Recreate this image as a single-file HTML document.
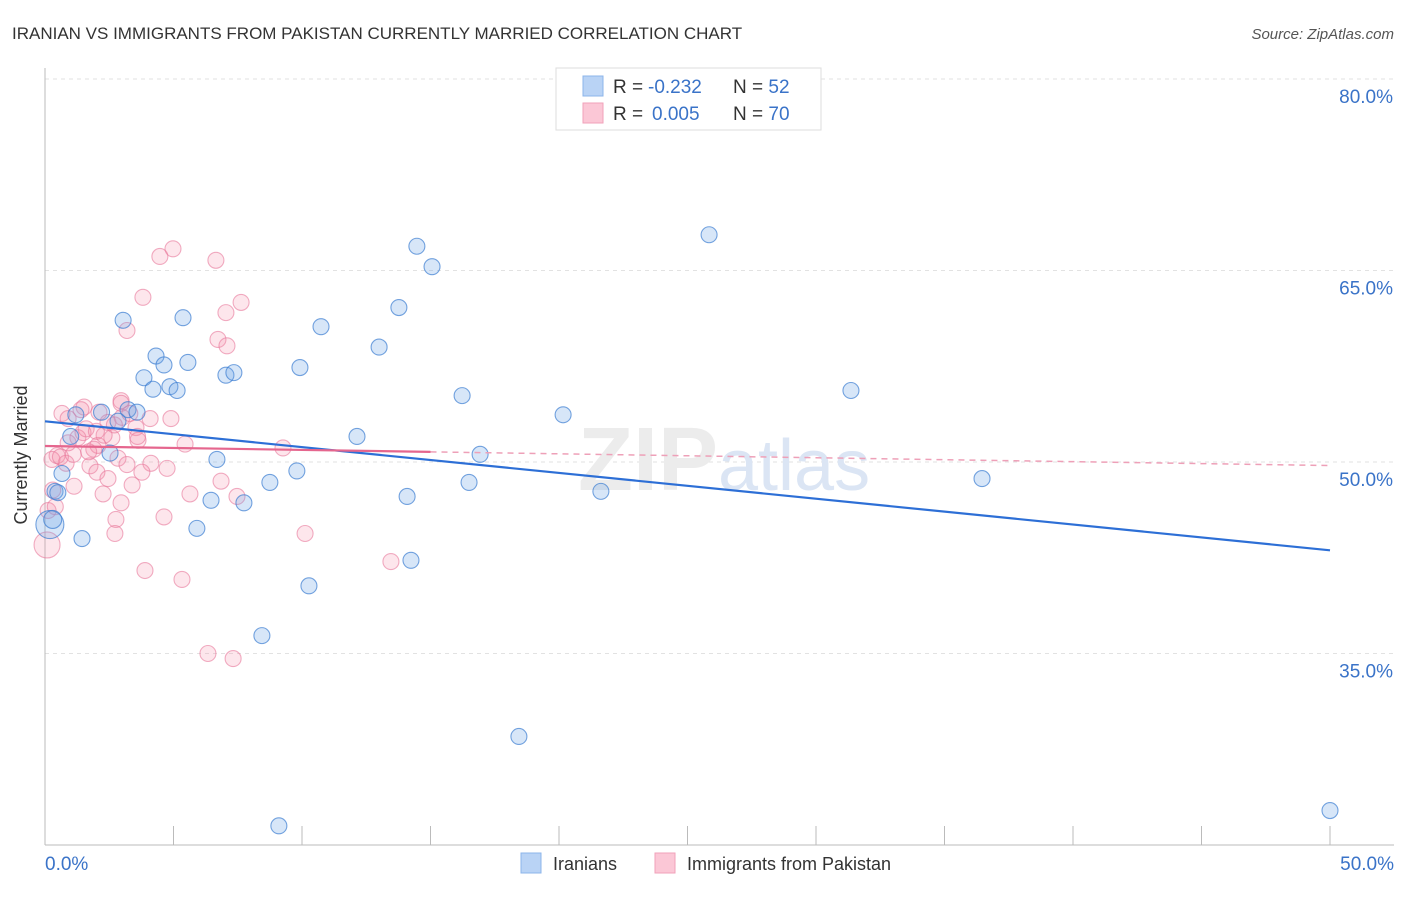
<!DOCTYPE html>
<html><head><meta charset="utf-8"><style>
body{margin:0;background:#fff;font-family:"Liberation Sans",sans-serif}
svg text{font-family:"Liberation Sans",sans-serif}
</style></head><body>
<svg id="chart" width="1406" height="892" viewBox="0 0 1406 892">
<text x="12" y="39" font-size="17" fill="#333">IRANIAN VS IMMIGRANTS FROM PAKISTAN CURRENTLY MARRIED CORRELATION CHART</text>
<text x="1394" y="39" font-size="15" fill="#555" font-style="italic" text-anchor="end">Source: ZipAtlas.com</text>
<g id="grid"></g>
<g id="axes"></g>
<text x="718" y="490" font-size="90" fill="#ececec" text-anchor="end" font-family="Liberation Serif" font-weight="bold">ZIP</text>
<text x="718" y="490" font-size="72" fill="#dbe5f4">atlas</text>
<g id="pts"></g>
<g id="lines"></g>
<text x="27" y="455" font-size="18" fill="#333" text-anchor="middle" transform="rotate(-90 27 455)">Currently Married</text>
<g>
<rect x="556" y="68" width="265" height="62" fill="#fff" stroke="#ddd"/>
<rect x="583" y="76" width="20" height="20" fill="#b9d3f5" stroke="#8cb4ea"/>
<rect x="583" y="103" width="20" height="20" fill="#fbc7d6" stroke="#f0a2ba"/>
<text x="613" y="93" font-size="19" fill="#333">R = <tspan fill="#3a73c8" x="648">-0.232</tspan><tspan x="733">N = </tspan><tspan fill="#3a73c8">52</tspan></text>
<text x="613" y="120" font-size="19" fill="#333">R = <tspan fill="#3a73c8" x="652">0.005</tspan><tspan x="733">N = </tspan><tspan fill="#3a73c8">70</tspan></text>
</g>
<g>
<rect x="521" y="853" width="20" height="20" fill="#b9d3f5" stroke="#8cb4ea"/>
<text x="553" y="870" font-size="18" fill="#333">Iranians</text>
<rect x="655" y="853" width="20" height="20" fill="#fbc7d6" stroke="#f0a2ba"/>
<text x="687" y="870" font-size="18" fill="#333">Immigrants from Pakistan</text>
</g>
</svg>
<script>
const yTicks=[35,50,65,80];
const yTickLabels=["35.0%","50.0%","65.0%","80.0%"];
const xTickLabels=["0.0%","50.0%"];
const blueX=[25.84,14.47,15.06,13.77,10.74,13.0,3.04,5.37,4.32,4.63,5.56,3.85,7.04,7.35,9.92,4.2,4.86,5.14,16.23,31.36,20.16,1.2,2.2,3.23,3.58,2.84,1.0,12.14,16.93,2.53,6.69,9.8,0.66,16.5,8.75,36.46,0.39,21.63,14.09,6.46,7.74,0.19,5.91,1.44,14.24,10.27,8.44,18.44,9.1,50,0.3,0.5];
const blueY=[67.8,66.9,65.3,62.1,60.6,59.0,61.1,61.3,58.3,57.6,57.8,56.6,56.8,57.0,57.4,55.7,55.9,55.6,55.2,55.6,53.7,53.7,53.9,54.1,53.9,53.2,52.0,52.0,50.6,50.7,50.2,49.3,49.1,48.4,48.4,48.7,47.7,47.7,47.3,47.0,46.8,45.1,44.8,44.0,42.3,40.3,36.4,28.5,21.5,22.7,45.5,47.6];
const blueR=[8,8,8,8,8,8,8,8,8,8,8,8,8,8,8,8,8,8,8,8,8,8,8,8,8,8,8,8,8,8,8,8,8,8,8,8,8,8,8,8,8,14,8,8,8,8,8,8,8,8,9,8];
const pinkX=[4.98,4.47,6.65,3.81,7.63,7.04,3.19,6.73,7.08,2.96,1.52,0.66,2.1,2.96,4.9,4.09,0.9,2.45,3.54,1.48,1.28,3.62,2.6,5.45,9.26,2.06,0.47,0.82,2.84,4.12,1.75,3.19,4.75,2.02,3.77,2.45,6.85,1.13,3.39,2.26,5.64,7.47,2.96,0.12,4.63,2.76,10.12,2.72,0.08,13.46,3.89,5.33,6.34,7.32,0.27,0.6,1.6,2.3,3.0,1.9,0.4,1.1,2.7,3.3,0.9,1.4,2.0,3.6,0.3,1.7];
const pinkY=[66.7,66.1,65.8,62.9,62.5,61.7,60.3,59.6,59.1,54.8,54.3,53.8,53.9,54.6,53.4,53.4,53.4,53.1,52.7,52.3,51.9,51.7,51.9,51.4,51.1,51.3,50.5,49.9,50.3,49.9,49.7,49.8,49.5,49.2,49.2,48.7,48.5,48.1,48.2,47.5,47.5,47.3,46.8,46.2,45.7,45.5,44.4,44.4,43.5,42.2,41.5,40.8,35.0,34.6,50.2,50.4,52.6,52.1,53.5,51.0,46.5,50.6,52.9,53.8,51.5,54.1,52.4,52.0,47.8,50.8];
const X0=45,X1=1330,XMAX=50;
function xs(v){return X0+v/XMAX*(X1-X0);}
function ys(v){return 462-(v-50)*191.5/15;}
const NS="http://www.w3.org/2000/svg";
function mk(t,a,p){const e=document.createElementNS(NS,t);for(const k in a)e.setAttribute(k,a[k]);p.appendChild(e);return e;}
const grid=document.getElementById('grid'),axes=document.getElementById('axes');
yTicks.forEach((t,i)=>{
 const g=mk('line',{x1:45,x2:1394,y1:ys(t),y2:ys(t),stroke:'#e2e2e2','stroke-dasharray':'4,4'},grid);
 
 
 const l=mk('text',{x:1393,y:ys(t)+24,'font-size':19,fill:'#3a73c8','text-anchor':'end'},axes);
 l.textContent=yTickLabels[i];
 
 
});
const ya=mk('line',{x1:45,x2:45,y1:68,y2:845,stroke:'#bbb'},axes);


const xa=mk('line',{x1:45,x2:1394,y1:845,y2:845,stroke:'#bbb'},axes);


for(let i=0;i<=10;i++){
 const t=mk('line',{x1:xs(i*5),x2:xs(i*5),y1:826,y2:845,stroke:'#bbb'},axes);
 
 
}
[[0,xTickLabels[0],'start',45],[50,xTickLabels[1],'end',1394]].forEach(d=>{
 const l=mk('text',{x:d[3],y:870,'font-size':19,fill:'#3a73c8','text-anchor':d[2]},axes);
 l.textContent=d[1];
 
 
});
const pts=document.getElementById('pts');
function draw(X,Y,R,fill,stroke,name){
 X.forEach((x,i)=>{
  const c=mk('circle',{cx:xs(x),cy:ys(Y[i]),r:R?R[i]:8,fill:fill,stroke:stroke,'stroke-width':1.1},pts);
  
  
 });
}
draw(pinkX,pinkY,pinkX.map((x,i)=>i==48?13:8),'rgba(245,140,170,0.22)','rgba(232,120,155,0.6)','pakistan-point');
draw(blueX,blueY,blueR,'rgba(110,165,230,0.28)','rgba(60,125,210,0.7)','iranian-point');
function fit(X,Y){const n=X.length;let mx=0,my=0;X.forEach((x,i)=>{mx+=x;my+=Y[i];});mx/=n;my/=n;let sxy=0,sxx=0;X.forEach((x,i)=>{sxy+=(x-mx)*(Y[i]-my);sxx+=(x-mx)*(x-mx);});const b=sxy/sxx;return [my-b*mx,b];}
const lines=document.getElementById('lines');
const bf=fit(blueX,blueY);
const bl=mk('line',{x1:xs(0),y1:ys(bf[0]),x2:xs(50),y2:ys(bf[0]+bf[1]*50),stroke:'#2d6fd6','stroke-width':2.2},lines);


const pf=fit(pinkX,pinkY);
const pl=mk('line',{x1:xs(0),y1:ys(pf[0]),x2:xs(15),y2:ys(pf[0]+pf[1]*15),stroke:'#e5668e','stroke-width':2.2},lines);


const pd=mk('line',{x1:xs(15),y1:ys(pf[0]+pf[1]*15),x2:xs(50),y2:ys(pf[0]+pf[1]*50),stroke:'#eea0b8','stroke-width':1.5,'stroke-dasharray':'6,5'},lines);


</script>
</body></html>
